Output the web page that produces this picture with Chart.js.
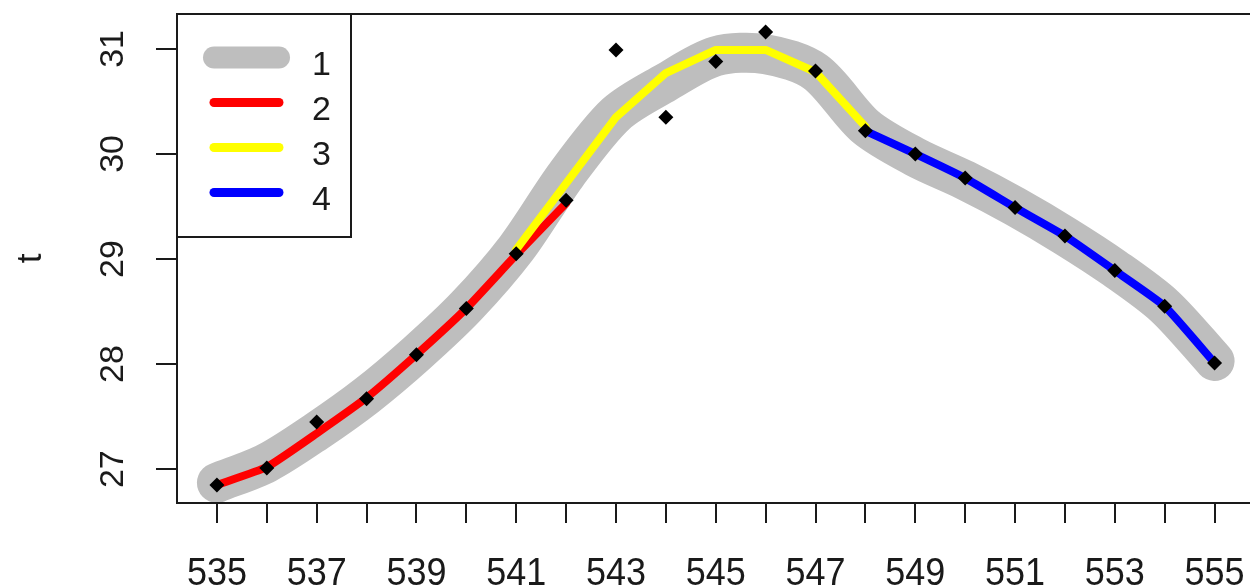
<!DOCTYPE html>
<html><head><meta charset="utf-8">
<script src="https://cdn.jsdelivr.net/npm/chart.js@4.4.0/dist/chart.umd.min.js"></script>
<style>html,body{margin:0;padding:0;overflow:hidden;background:#fff;width:1250px;height:588px}canvas{display:block}</style>
</head><body>
<canvas id="c" width="1262" height="588" style="width:1262px;height:588px"></canvas>
<script>
// ---- data ----
const xValues = [535,536,537,538,539,540,541,542,543,544,545,546,547,548,549,550,551,552,553,554,555];
const observed = [26.85,27.01,27.45,27.67,28.09,28.53,29.05,29.56,30.99,30.35,30.88,31.16,30.79,30.22,30.00,29.77,29.49,29.22,28.89,28.55,28.01];
const series1 = [26.87,27.06,27.36,27.70,28.10,28.55,29.10,29.80,30.38,30.68,30.93,30.95,30.78,30.26,29.97,29.75,29.50,29.22,28.91,28.55,28.03];
const series2X = [535,536,537,538,539,540,541,542];
const series2 = [26.85,27.02,27.34,27.68,28.09,28.53,29.04,29.53];
const series3X = [541,542,543,544,545,546,547,548];
const series3 = [29.09,29.72,30.35,30.77,30.99,30.99,30.78,30.26];
const series4X = [548,549,550,551,552,553,554,555];
const series4 = [30.22,30.00,29.77,29.49,29.22,28.89,28.55,28.01];
const xTickValues = [535,536,537,538,539,540,541,542,543,544,545,546,547,548,549,550,551,552,553,554,555];
const xTickLabels = [535,537,539,541,543,545,547,549,551,553,555];
const yTickValues = [27,28,29,30,31];
const yAxisTitle = 't';
const legendLabels = ['1','2','3','4'];

const FONT = '"Liberation Sans", Arial, sans-serif';
const toXY = (xs, ys) => xs.map((x, i) => ({x: x, y: ys[i]}));

const legendItems = [
  {label: legendLabels[0], color: '#BEBEBE', width: 22},
  {label: legendLabels[1], color: '#FF0000', width: 9},
  {label: legendLabels[2], color: '#FFFF00', width: 9},
  {label: legendLabels[3], color: '#0000FF', width: 9}
];

const decor = {
  id: 'decor',
  afterDraw(chart) {
    const ctx = chart.ctx, a = chart.chartArea;
    const xs = chart.scales.x, ys = chart.scales.y;
    ctx.save();
    ctx.strokeStyle = '#1a1a1a';
    ctx.lineWidth = 2;
    ctx.strokeRect(a.left, a.top, a.right - a.left, a.bottom - a.top);
    ctx.fillStyle = '#1a1a1a';
    ctx.font = '36px ' + FONT;
    ctx.textAlign = 'center';
    ctx.textBaseline = 'alphabetic';
    xTickLabels.forEach(v => {
      const px = xs.getPixelForValue(v);
      ctx.save();
      ctx.translate(px, 585);
      ctx.scale(1, 1.06);
      ctx.fillText(String(v), 0, 0);
      ctx.restore();
    });
    ctx.font = '34px ' + FONT;
    yTickValues.forEach(v => {
      const py = ys.getPixelForValue(v);
      ctx.save();
      ctx.translate(123, py);
      ctx.rotate(-Math.PI / 2);
      ctx.fillText(String(v), 0, 0);
      ctx.restore();
    });
    ctx.save();
    ctx.translate(41, (a.top + a.bottom) / 2);
    ctx.rotate(-Math.PI / 2);
    ctx.font = '35px ' + FONT;
    ctx.fillText(yAxisTitle, 0, 0);
    ctx.restore();
    const lx = a.left, ly = a.top, lw = 351 - a.left, lh = 237 - a.top;
    ctx.fillStyle = '#fff';
    ctx.fillRect(lx, ly, lw, lh);
    ctx.strokeStyle = '#1a1a1a';
    ctx.lineWidth = 2;
    ctx.strokeRect(lx, ly, lw, lh);
    ctx.font = '34px ' + FONT;
    ctx.textAlign = 'left';
    legendItems.forEach((it, i) => {
      const y = 57.5 + i * 45;
      ctx.beginPath();
      ctx.lineCap = 'round';
      ctx.strokeStyle = it.color;
      ctx.lineWidth = it.width;
      ctx.moveTo(214, y);
      ctx.lineTo(279, y);
      ctx.stroke();
      ctx.fillStyle = '#1a1a1a';
      ctx.fillText(it.label, 312, y + 17.5);
    });
    ctx.restore();
  }
};

new Chart(document.getElementById('c'), {
  type: 'line',
  data: {
    datasets: [
      {label: 'points', data: toXY(xValues, observed), showLine: false, pointStyle: 'rectRot',
       pointRadius: 7.5, pointBackgroundColor: '#000', pointBorderColor: '#000', pointBorderWidth: 0, order: 0},
      {label: legendLabels[3], data: toXY(series4X, series4), borderColor: '#0000FF', borderWidth: 8,
       pointRadius: 0, tension: 0.15, borderCapStyle: 'round', borderJoinStyle: 'round', order: 1},
      {label: legendLabels[2], data: toXY(series3X, series3), borderColor: '#FFFF00', borderWidth: 8,
       pointRadius: 0, tension: 0, borderCapStyle: 'round', borderJoinStyle: 'round', order: 2},
      {label: legendLabels[1], data: toXY(series2X, series2), borderColor: '#FF0000', borderWidth: 8,
       pointRadius: 0, tension: 0.15, borderCapStyle: 'round', borderJoinStyle: 'round', order: 3},
      {label: legendLabels[0], data: toXY(xValues, series1), borderColor: '#BEBEBE', borderWidth: 40,
       pointRadius: 0, tension: 0.3, borderCapStyle: 'round', borderJoinStyle: 'round', order: 4}
    ]
  },
  options: {
    responsive: false,
    animation: false,
    devicePixelRatio: 1,
    events: [],
    layout: {padding: {top: 14, right: 3, left: 0, bottom: 0}},
    plugins: {legend: {display: false}, tooltip: {enabled: false}},
    scales: {
      x: {
        type: 'linear', min: 534.2, max: 555.8,
        afterBuildTicks: s => { s.ticks = xTickValues.map(v => ({value: v})); },
        afterFit: s => { s.height = 85; },
        ticks: {display: false},
        grid: {drawOnChartArea: false, drawTicks: true, tickLength: 20, color: '#1a1a1a', lineWidth: 2},
        border: {display: false}
      },
      y: {
        type: 'linear', min: 26.678, max: 31.332,
        afterBuildTicks: s => { s.ticks = yTickValues.map(v => ({value: v})); },
        afterFit: s => { s.width = 177; },
        ticks: {display: false},
        grid: {drawOnChartArea: false, drawTicks: true, tickLength: 21, color: '#1a1a1a', lineWidth: 2},
        border: {display: false}
      }
    }
  },
  plugins: [decor]
});
</script>
</body></html>
